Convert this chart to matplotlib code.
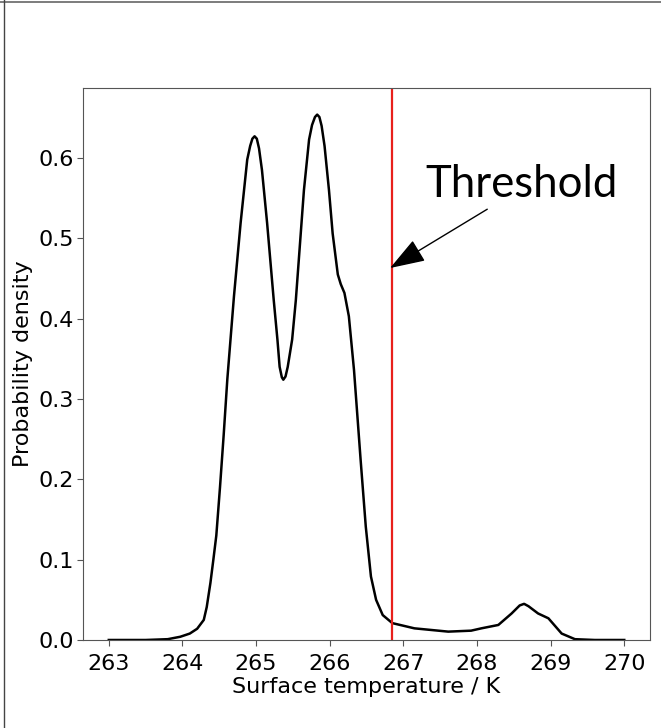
import matplotlib
matplotlib.use("Agg")
import matplotlib.pyplot as plt
from matplotlib.lines import Line2D

temperature = [263.0, 263.5, 263.8, 263.97, 264.1, 264.2, 264.29, 264.33, 264.38,
               264.42, 264.46, 264.51, 264.56, 264.61, 264.70, 264.79, 264.88, 264.92,
               264.95, 264.98, 265.01, 265.04, 265.08, 265.15, 265.24, 265.29, 265.32,
               265.35, 265.37, 265.40, 265.43, 265.49, 265.54, 265.65, 265.72, 265.76,
               265.80, 265.83, 265.86, 265.89, 265.93, 265.99, 266.04, 266.11, 266.15,
               266.20, 266.26, 266.33, 266.42, 266.49, 266.56, 266.63, 266.72, 266.85,
               267.15, 267.61, 267.92, 268.06, 268.29, 268.47, 268.58, 268.64, 268.70,
               268.83, 268.97, 269.15, 269.33, 269.6, 270.0]
density = [0.0, 0.0, 0.001, 0.004, 0.008, 0.014, 0.025, 0.041, 0.071,
           0.10, 0.13, 0.19, 0.255, 0.325, 0.428, 0.519, 0.598, 0.615,
           0.624, 0.627, 0.624, 0.612, 0.585, 0.519, 0.423, 0.374, 0.340,
           0.327, 0.324, 0.328, 0.340, 0.374, 0.423, 0.560, 0.623, 0.641,
           0.651, 0.654, 0.651, 0.640, 0.615, 0.560, 0.506, 0.455, 0.443,
           0.432, 0.403, 0.336, 0.224, 0.141, 0.079, 0.050, 0.031, 0.021,
           0.0145, 0.0104, 0.0116, 0.0145, 0.0187, 0.033, 0.043, 0.045, 0.042,
           0.033, 0.027, 0.008, 0.001, 0.0, 0.0]
threshold = 266.84
x_ticks = [263, 264, 265, 266, 267, 268, 269, 270]
y_ticks = [0.0, 0.1, 0.2, 0.3, 0.4, 0.5, 0.6]

fig = plt.figure(figsize=(6.61, 7.28), dpi=100)
ax = fig.add_axes([0.1256, 0.1209, 0.8578, 0.7581])
ax.plot(temperature, density, color='black', lw=1.8)
ax.axvline(threshold, color='#e8201c', lw=1.6)
ax.set_xlim(262.65, 270.35)
ax.set_ylim(0, 0.687)
ax.set_xticks(x_ticks)
ax.set_yticks(y_ticks)
ax.set_xticklabels([str(t) for t in x_ticks])
ax.set_yticklabels([f"{v:.1f}" for v in y_ticks])
ax.tick_params(labelsize=16, color='#555555', length=4)
ax.tick_params(axis='x', pad=6)
ax.tick_params(axis='y', pad=2.5)
for s in ax.spines.values():
    s.set_color('#555555')
ax.set_xlabel('Surface temperature / K', fontsize=16, labelpad=2)
ax.set_ylabel('Probability density', fontsize=16, labelpad=4)

ax.annotate('Threshold', xy=(266.82, 0.463), xytext=(268.6, 0.567),
            ha='center', va='center', fontsize=31.5, family='Lato',
            arrowprops=dict(arrowstyle='-|>,head_length=1.1,head_width=0.38',
                            mutation_scale=20, relpos=(0.36, 0.0),
                            facecolor='black', edgecolor='black', lw=1.0,
                            shrinkA=2, shrinkB=0))

fig.add_artist(Line2D([0, 1], [1 - 2 / 728, 1 - 2 / 728], transform=fig.transFigure,
                      color='#666666', lw=1.2))
fig.add_artist(Line2D([4 / 661, 4 / 661], [0, 1], transform=fig.transFigure,
                      color='#444444', lw=1.0))

fig.savefig('out.png', dpi=100)
